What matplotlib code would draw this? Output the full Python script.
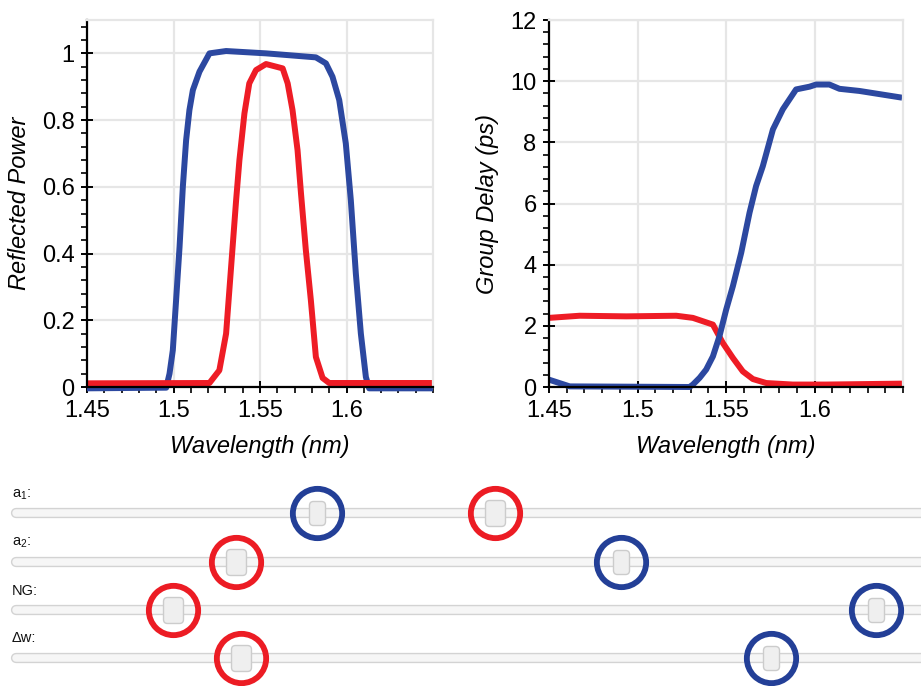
import matplotlib
matplotlib.use("Agg")
import matplotlib.pyplot as plt
import numpy as np
from matplotlib.ticker import MultipleLocator, FuncFormatter
from matplotlib.patches import FancyBboxPatch
from matplotlib.path import Path

plt.rcParams['font.family'] = ['Liberation Sans', 'DejaVu Sans']
plt.rcParams['mathtext.fontset'] = 'custom'
plt.rcParams['mathtext.rm'] = 'Liberation Sans'
plt.rcParams['mathtext.it'] = 'Liberation Sans:italic'

# ---------------- data ----------------
refl_blue_x = [1.45, 1.4958, 1.4977, 1.4996, 1.5015, 1.5035, 1.5054, 1.5073, 1.5092, 1.5112,
               1.515, 1.5208, 1.5304, 1.5535, 1.5823, 1.5881, 1.5919, 1.5958, 1.5996,
               1.6025, 1.6054, 1.6083, 1.6112, 1.6131, 1.65]
refl_blue_y = [-0.004, -0.002, 0.04, 0.11, 0.26, 0.42, 0.60, 0.74, 0.83, 0.89,
               0.945, 1.0, 1.007, 1.0, 0.988, 0.97, 0.93, 0.86, 0.73,
               0.56, 0.34, 0.16, 0.03, -0.004, -0.004]

refl_red_x = [1.45, 1.5208, 1.5265, 1.5304, 1.5333, 1.5362, 1.5381, 1.541, 1.5438, 1.5477,
              1.5535, 1.5631, 1.566, 1.5688, 1.5717, 1.5737, 1.5765, 1.5794, 1.5823,
              1.5862, 1.59, 1.65]
refl_red_y = [0.011, 0.012, 0.05, 0.16, 0.36, 0.56, 0.68, 0.82, 0.91, 0.95,
              0.968, 0.955, 0.91, 0.83, 0.71, 0.58, 0.41, 0.26, 0.09,
              0.027, 0.012, 0.012]

gd_blue_x = [1.45, 1.4617, 1.5294, 1.5313, 1.5351, 1.5388, 1.5426, 1.5463, 1.5501, 1.5539,
             1.5586, 1.5633, 1.5670, 1.5708, 1.5765, 1.5821, 1.5896, 1.5972, 1.6009,
             1.6084, 1.6141, 1.6254, 1.6495]
gd_blue_y = [0.24, 0.02, 0.0, 0.08, 0.3, 0.57, 1.0, 1.66, 2.53, 3.3,
             4.39, 5.7, 6.57, 7.22, 8.42, 9.08, 9.73, 9.82, 9.89,
             9.89, 9.75, 9.68, 9.46]

gd_red_x = [1.45, 1.4673, 1.4937, 1.5219, 1.5313, 1.5426, 1.5482, 1.5539, 1.5595, 1.5652,
            1.5727, 1.5877, 1.6066, 1.6495]
gd_red_y = [2.26, 2.33, 2.31, 2.33, 2.26, 2.04, 1.44, 0.95, 0.51, 0.26,
            0.13, 0.08, 0.08, 0.11]

x_ticks = [1.45, 1.5, 1.55, 1.6]
refl_ticks = [0, 0.2, 0.4, 0.6, 0.8, 1.0]
gd_ticks = [0, 2, 4, 6, 8, 10, 12]

slider_labels = ["a$_{\\mathrm{1}}$:", "a$_{\\mathrm{2}}$:", "NG:", "Δw:"]
slider_red = [0.526, 0.245, 0.176, 0.250]
slider_blue = [0.333, 0.663, 0.940, 0.826]

BLUE = '#2c48a0'
RED = '#ee1c25'
GRID = '#e6e6e6'

fig = plt.figure(figsize=(9.21, 6.86), dpi=100)
W, H = 921, 686

def setup(ax, ylim, yticks, ymin_step, ylabel):
    ax.set_xlim(1.45, 1.65)
    ax.set_ylim(*ylim)
    ax.set_xticks(x_ticks)
    ax.set_yticks(yticks)
    ax.xaxis.set_minor_locator(MultipleLocator(0.01))
    ax.yaxis.set_minor_locator(MultipleLocator(ymin_step))
    fmt = FuncFormatter(lambda v, p: '%g' % round(v, 4))
    ax.xaxis.set_major_formatter(fmt)
    ax.yaxis.set_major_formatter(fmt)
    ax.grid(True, which='major', color=GRID, lw=1.6, zorder=0)
    ax.set_axisbelow(True)
    for s in ['top', 'right']:
        ax.spines[s].set_color(GRID)
        ax.spines[s].set_linewidth(1.6)
    for s in ['left', 'bottom']:
        ax.spines[s].set_color('black')
        ax.spines[s].set_linewidth(1.6)
    ax.tick_params(which='major', direction='inout', length=8, width=1.4, labelsize=17, pad=5)
    ax.tick_params(which='minor', direction='out', length=4, width=1.2)
    ax.tick_params(top=False, right=False, which='both')
    ax.set_xlabel('Wavelength (nm)', fontsize=17, style='italic', labelpad=10)
    ax.set_ylabel(ylabel, fontsize=17, style='italic', labelpad=8)

LW = 4.3
ax1 = fig.add_axes([87 / W, 1 - 387 / H, (433 - 87) / W, (387 - 20) / H])
setup(ax1, (0, 1.1), refl_ticks, 0.04, 'Reflected Power')
ax1.plot(refl_blue_x, refl_blue_y, color=BLUE, lw=LW, clip_on=False, zorder=2,
         solid_joinstyle='round', solid_capstyle='butt')
ax1.plot(refl_red_x, refl_red_y, color=RED, lw=LW, clip_on=False, zorder=2.1,
         solid_joinstyle='round', solid_capstyle='butt')

ax2 = fig.add_axes([549 / W, 1 - 387 / H, (903 - 549) / W, (387 - 20) / H])
setup(ax2, (0, 12), gd_ticks, 0.4, 'Group Delay (ps)')
ax2.plot(gd_red_x, gd_red_y, color=RED, lw=LW, clip_on=False, zorder=2,
         solid_joinstyle='round', solid_capstyle='butt')
ax2.plot(gd_blue_x, gd_blue_y, color=BLUE, lw=LW, clip_on=False, zorder=2.1,
         solid_joinstyle='round', solid_capstyle='butt')

# ---------------- sliders ----------------
axs = fig.add_axes([0, 0, 1, 216 / H])
axs.set_xlim(-11 / 920, 910 / 920)
axs.set_ylim(686, 470)
axs.axis('off')

row_y = [513, 561.5, 610, 657.5]
label_y = [495, 543, 591, 638]

def rr_marker(w, h, r):
    p = FancyBboxPatch((-w / 2, -h / 2), w, h,
                       boxstyle="round,pad=0,rounding_size=%g" % r)
    return p.get_path()

handle_small = rr_marker(16, 24, 4)
handle_big = rr_marker(20, 26, 4)

for i in range(4):
    y = row_y[i]
    axs.plot([5 / 920, 1.05], [y, y], color='#d3d3d3', lw=7.4, solid_capstyle='round', zorder=1)
    axs.plot([5 / 920, 1.05], [y, y], color='#f6f6f6', lw=5.4, solid_capstyle='round', zorder=1.1)
    axs.text(1 / 920, label_y[i], slider_labels[i], fontsize=10.5,
             ha='left', va='center', color='#111111')
    for v, c, hm, ms in [(slider_blue[i], '#233f97', handle_small, 17.3),
                         (slider_red[i], '#ec1c24', handle_big, 18.7)]:
        axs.plot([v], [y], marker=hm, markersize=ms, markerfacecolor='#efefef',
                 markeredgecolor='#cccccc', markeredgewidth=1.0, ls='none', zorder=3)
        axs.plot([v], [y], marker='o', markersize=35.5, markerfacecolor='none',
                 markeredgecolor=c, markeredgewidth=4.2, ls='none', zorder=4)

fig.savefig('out.png', dpi=100)
